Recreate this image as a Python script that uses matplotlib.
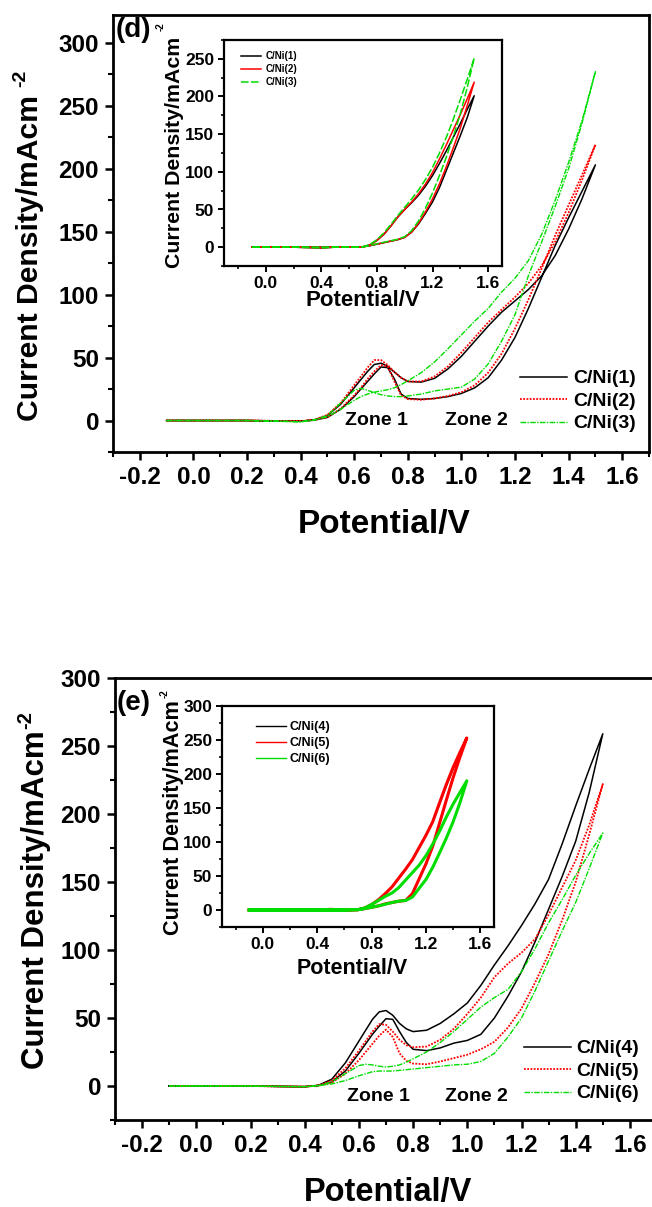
import matplotlib
matplotlib.use("Agg")
import matplotlib.pyplot as plt
from matplotlib.ticker import MultipleLocator, FormatStrFormatter
import numpy as np

plt.rcParams['font.family'] = ['Liberation Sans', 'DejaVu Sans']
plt.rcParams['font.weight'] = 'bold'
plt.rcParams['axes.unicode_minus'] = False

# ---------------- data: main panels (potential grid, V) ----------------
E_main = [-0.1, 0.0, 0.1, 0.2, 0.3, 0.4, 0.45, 0.5, 0.55, 0.6, 0.625, 0.65, 0.675, 0.7,
          0.725, 0.75, 0.775, 0.8, 0.85, 0.9, 0.95, 1.0, 1.05, 1.1, 1.15, 1.2, 1.25, 1.3,
          1.35, 1.4, 1.45, 1.5]

# panel (d): branch A (shoulder branch) and branch B (low branch), mA cm^-2
d_ni1_A = [0, 0, 0, 0, -0.3, -0.5, 0.5, 4, 13, 26, 32.5, 39, 44.5, 45.5, 43, 38.5, 34, 31,
           30.5, 33.5, 41, 51, 63, 75, 86, 95, 104, 115, 131, 152, 176, 203]
d_ni1_B = [0, 0, 0, 0, -0.3, -0.5, 0.3, 2.5, 9, 19, 25, 31, 37, 42.5, 42, 33, 21, 17.5,
           16.8, 17.5, 19, 21.5, 26, 34, 48, 66, 89, 114, 139, 161, 182, 203]
d_ni2_A = [0, 0, 0, 0, -0.3, -0.5, 0.5, 4.5, 14, 28, 35, 42, 48, 48, 44, 38.5, 34, 31,
           31, 35, 43, 54, 66, 78, 88, 98, 109, 123, 142, 165, 191, 219]
d_ni2_B = [0, 0, 0, 0, -0.3, -0.5, 0.3, 2.5, 9.5, 20, 26, 33, 39, 44, 43, 31, 20, 17,
           16.5, 17.5, 19.5, 22.5, 28, 38, 53, 73, 96, 121, 147, 171, 195, 219]
d_ni3_A = [0, 0, 0, 0, -0.5, -1, 0.3, 3, 9, 16, 19, 21, 22.5, 23.5, 24.5, 26, 28.5, 31.5,
           38, 46.5, 57, 68, 79, 89, 102, 113, 127, 148, 175, 205, 238, 277]
d_ni3_B = [0, 0, 0, 0, -0.5, -1, 0.3, 4, 14, 24, 25.5, 24, 22, 20.5, 19.5, 19, 19, 19.5,
           21, 23.5, 25, 26.5, 33, 45, 63, 84, 115, 142, 170, 200, 236, 277]

# panel (e)
e_ni4_A = [0, 0, 0, 0, -0.3, -0.5, 0.5, 5, 17, 33, 41, 49, 54.5, 55.5, 52, 46, 42, 40,
           41, 46, 53, 61, 74, 89, 103, 118, 134, 152, 178, 206, 233, 259]
e_ni4_B = [0, 0, 0, 0, -0.3, -0.5, 0.3, 3, 11, 24, 31, 38, 44, 49.5, 49, 40, 32, 27,
           26, 28, 31.5, 33.5, 38, 50, 66, 84, 106, 130, 154, 180, 216, 259]
e_ni5_A = [0, 0, 0, 0, -0.3, -0.5, 0.3, 4, 13, 26, 33, 40, 45.5, 45, 40, 34, 30, 28.5,
           29, 34, 42, 53, 65, 80, 90, 98, 108, 126, 146, 166, 192, 222]
e_ni5_B = [0, 0, 0, 0, -0.3, -0.5, 0.3, 2.5, 9, 19, 25, 31, 37, 41.5, 36, 24, 18.5, 16.5,
           16, 18, 20.5, 23, 27, 32.5, 43, 57, 76, 97, 122, 150, 185, 222]
e_ni6_A = [0, 0, 0, 0, -0.3, -0.5, 0.3, 3, 9, 15, 16, 15.5, 14.5, 14, 14.5, 15.5, 17.5, 20,
           25, 32, 40, 49, 58, 65, 71, 84, 101, 120, 137, 155, 171, 186]
e_ni6_B = [0, 0, 0, 0, -0.3, -0.5, 0.2, 1.5, 4, 7.5, 9, 10.5, 11, 11, 11, 11.5, 12, 12.5,
           13.5, 14.5, 15.5, 16, 18, 24, 36, 50, 70, 92, 114, 135, 160, 186]

# ---------------- data: insets ----------------
E_ins = [-0.1, 0.0, 0.2, 0.4, 0.5, 0.6, 0.7, 0.75, 0.8, 0.85, 0.9, 0.95, 1.0, 1.05, 1.1,
         1.15, 1.2, 1.25, 1.3, 1.35, 1.4, 1.45, 1.5]
di_ni1_U = [0, 0, 0, 0, 0, 0, 0.5, 3, 9, 17, 28, 40, 50, 59, 69, 81, 95, 111, 128, 146, 164, 183, 201]
di_ni1_L = [0, 0, 0, -1, 0, 0, 0.5, 2, 4, 6, 8, 10, 13, 20, 31, 45, 60, 79, 102, 125, 148, 172, 201]
di_ni2_U = [0, 0, 0, 0, 0, 0, 0.5, 3, 9, 17, 28, 40, 50, 60, 71, 84, 99, 117, 136, 156, 176, 197, 219]
di_ni2_L = [0, 0, 0, -1, 0, 0, 0.5, 2, 4, 6, 8, 10, 13, 20, 32, 47, 64, 84, 107, 132, 158, 188, 219]
di_ni3_U = [0, 0, 0, 0, 0, 0, 0.5, 3.5, 10, 19, 30, 42, 53, 64, 76, 90, 106, 125, 146, 170, 196, 223, 251]
di_ni3_L = [0, 0, 0, -1, 0, 0, 0.5, 2, 4.5, 6.5, 8.5, 10.5, 14, 22, 35, 52, 72, 95, 120, 147, 177, 212, 251]

ei_ni4_U = [0, 0, 0, 0, 0, 0, 0.5, 3, 8, 15, 24, 34, 47, 60, 74, 92, 110, 130, 156, 183, 208, 231, 253]
ei_ni4_L = [0, 0, 0, 0, 0, 0, 0.5, 2, 4, 6, 9, 11, 13, 14, 24, 46, 68, 94, 128, 162, 195, 225, 253]
ei_ni5_U = [0, 0, 0, 0, 1, 0, 0.5, 3, 8, 15, 24, 34, 47, 60, 74, 92, 110, 130, 158, 185, 210, 232, 253]
ei_ni5_L = [0, 0, 0, 0, 0, 0, 0.5, 2, 4, 6, 9, 11, 13, 14, 24, 46, 68, 94, 128, 162, 195, 225, 253]
ei_ni6_U = [0, 0, 0, 0, 0, 0, 0.5, 3, 8, 14, 20, 25, 33, 44, 55, 66, 80, 97, 116, 137, 156, 173, 190]
ei_ni6_L = [0, 0, 0, 0, 0, 0, 0.5, 2, 4, 6, 8.5, 11, 13, 14, 19, 32, 45, 63, 84, 106, 130, 158, 190]

labels_d = ["C/Ni(1)", "C/Ni(2)", "C/Ni(3)"]
labels_e = ["C/Ni(4)", "C/Ni(5)", "C/Ni(6)"]
xticks_main = [-0.2, 0.0, 0.2, 0.4, 0.6, 0.8, 1.0, 1.2, 1.4, 1.6]
xticks_ins = [0.0, 0.4, 0.8, 1.2, 1.6]

# ---------------- figure ----------------
W, H = 652, 1207
fig = plt.figure(figsize=(W / 100, H / 100), dpi=100)


def axes_px(left, top, right, bottom):
    return fig.add_axes([left / W, 1 - bottom / H, (right - left) / W, (bottom - top) / H])


def loop(E, A, B):
    E = np.asarray(E, float)
    return (np.concatenate([E, E[::-1]]),
            np.concatenate([np.asarray(A, float), np.asarray(B, float)[::-1]]))


COL = ['#000000', '#ff0000', '#00dd00']
LS_main = ['-', (0, (1, 0.8)), (0, (4, 1, 1, 1))]
LW_main = [1.1, 1.3, 1.0]


def style_main(ax, ylim, tick_fs):
    ax.set_xlim(-0.3, 1.7)
    ax.set_ylim(*ylim)
    ax.set_xticks(xticks_main)
    ax.xaxis.set_major_formatter(FormatStrFormatter('%.1f'))
    ax.xaxis.set_minor_locator(MultipleLocator(0.1))
    ax.yaxis.set_major_locator(MultipleLocator(50))
    ax.yaxis.set_minor_locator(MultipleLocator(25))
    for s in ax.spines.values():
        s.set_linewidth(2.0)
    ax.tick_params(which='major', direction='out', length=6, width=1.8,
                   labelsize=tick_fs, pad=4, top=False, right=False)
    ax.tick_params(which='minor', direction='out', length=3.5, width=1.5,
                   top=False, right=False)


def style_inset(ax, ylim):
    ax.set_xlim(-0.3, 1.7)
    ax.set_ylim(*ylim)
    ax.set_xticks(xticks_ins)
    ax.xaxis.set_major_formatter(FormatStrFormatter('%.1f'))
    ax.xaxis.set_minor_locator(MultipleLocator(0.2))
    ax.yaxis.set_major_locator(MultipleLocator(50))
    ax.yaxis.set_minor_locator(MultipleLocator(25))
    for s in ax.spines.values():
        s.set_linewidth(1.6)
    ax.tick_params(which='major', direction='out', length=4, width=1.4,
                   labelsize=12.5, pad=3, top=False, right=False)
    ax.tick_params(which='minor', direction='out', length=2.5, width=1.2,
                   top=False, right=False)


# ======== panel (d) ========
axd = axes_px(113, 15, 649, 452)
curves_d = [(d_ni1_A, d_ni1_B), (d_ni2_A, d_ni2_B), (d_ni3_A, d_ni3_B)]
for (A, B), c, ls, lw, lab in zip(curves_d, COL, LS_main, LW_main, labels_d):
    x, y = loop(E_main, A, B)
    axd.plot(x, y, color=c, ls=ls, lw=lw, label=lab)
style_main(axd, (-25, 322), 17.5)
axd.text(0.684, 0, "Zone 1", ha='center', va='center', fontsize=14, fontweight='bold')
axd.text(1.055, 0, "Zone 2", ha='center', va='center', fontsize=14, fontweight='bold')
axd.legend(loc='lower right', bbox_to_anchor=(0.975, 0.045), frameon=False,
           prop={'size': 14, 'weight': 'bold'}, handlelength=2.4, handletextpad=0.3,
           labelspacing=0.25, borderpad=0, borderaxespad=0)

# inset (d)
axdi = axes_px(224, 40, 502, 266)
LS_ins_d = ['-', '-', (0, (5, 1.5))]
for (U, L), c, ls, lab in zip([(di_ni1_U, di_ni1_L), (di_ni2_U, di_ni2_L), (di_ni3_U, di_ni3_L)],
                              COL, LS_ins_d, labels_d):
    x, y = loop(E_ins, U, L)
    axdi.plot(x, y, color=c, ls=ls, lw=1.1, label=lab)
style_inset(axdi, (-25, 275))
axdi.legend(loc='upper left', bbox_to_anchor=(0.06, 0.95), frameon=False,
            prop={'size': 7, 'weight': 'bold'}, handlelength=2.1, handletextpad=0.5,
            labelspacing=0.3, borderpad=0, borderaxespad=0)

# ======== panel (e) ========
axe = axes_px(115, 678, 657, 1120)
curves_e = [(e_ni4_A, e_ni4_B), (e_ni5_A, e_ni5_B), (e_ni6_A, e_ni6_B)]
for (A, B), c, ls, lw, lab in zip(curves_e, COL, LS_main, LW_main, labels_e):
    x, y = loop(E_main, A, B)
    axe.plot(x, y, color=c, ls=ls, lw=lw, label=lab)
style_main(axe, (-25, 300), 17.5)
axe.text(0.672, -7.4, "Zone 1", ha='center', va='center', fontsize=14, fontweight='bold')
axe.text(1.034, -7.4, "Zone 2", ha='center', va='center', fontsize=14, fontweight='bold')
axe.legend(loc='lower right', bbox_to_anchor=(0.967, 0.04), frameon=False,
           prop={'size': 14, 'weight': 'bold'}, handlelength=2.4, handletextpad=0.3,
           labelspacing=0.25, borderpad=0, borderaxespad=0)

# inset (e)
axei = axes_px(222, 706, 494, 927)
LW_ins_e = [1.2, 2.2, 2.2]
for (U, L), c, lw, lab in zip([(ei_ni4_U, ei_ni4_L), (ei_ni5_U, ei_ni5_L), (ei_ni6_U, ei_ni6_L)],
                              COL, LW_ins_e, labels_e):
    x, y = loop(E_ins, U, L)
    axei.plot(x, y, color=c, ls='-', lw=lw, label=lab)
style_inset(axei, (-25, 300))
leg = axei.legend(loc='upper left', bbox_to_anchor=(0.125, 0.93), frameon=False,
                  prop={'size': 9, 'weight': 'bold'}, handlelength=2.4, handletextpad=0.3,
                  labelspacing=0.3, borderpad=0, borderaxespad=0)
for h in leg.get_lines():
    h.set_linewidth(1.0)

# ---------------- labels as figure text (pixel placement) ----------------
def ftext(px, py, s, **kw):
    fig.text(px / W, 1 - py / H, s, fontweight='bold', **kw)


ylab = "Current Density/mAcm"
sup = "-2"
# panel (d)
ftext(30, 258, ylab, rotation=90, ha='center', va='center', fontsize=21.7)
ftext(21, 78, sup, rotation=90, ha='center', va='center', fontsize=14)
ftext(384, 525, "Potential/V", ha='center', va='center', fontsize=24)
ftext(175, 152, ylab, rotation=90, ha='center', va='center', fontsize=15.3)
ftext(161, 27, sup, rotation=90, ha='center', va='center', fontsize=7)
ftext(363, 300, "Potential/V", ha='center', va='center', fontsize=16)
ftext(116, 30, "(d)", ha='left', va='center', fontsize=20)

# panel (e)
ftext(36, 900, ylab, rotation=90, ha='center', va='center', fontsize=22.5)
ftext(26, 720, sup, rotation=90, ha='center', va='center', fontsize=14.5)
ftext(388, 1193, "Potential/V", ha='center', va='center', fontsize=23.5)
ftext(174, 818, ylab, rotation=90, ha='center', va='center', fontsize=15.6)
ftext(165, 694, sup, rotation=90, ha='center', va='center', fontsize=7)
ftext(352, 968, "Potential/V", ha='center', va='center', fontsize=15.5)
ftext(117, 703, "(e)", ha='left', va='center', fontsize=20)

fig.savefig("out.png", dpi=100)
